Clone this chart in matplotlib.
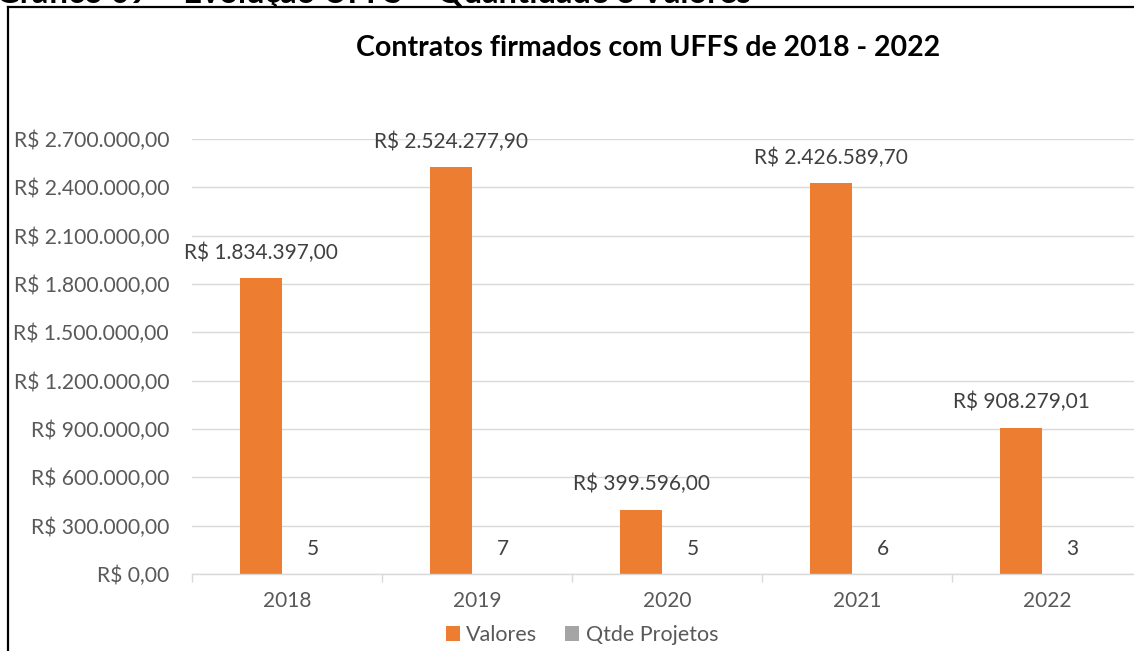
import matplotlib
matplotlib.use("Agg")
import matplotlib.pyplot as plt
from matplotlib.lines import Line2D
import numpy as np

years = ["2018", "2019", "2020", "2021", "2022"]
valores = [1834397.00, 2524277.90, 399596.00, 2426589.70, 908279.01]
qtde = [5, 7, 5, 6, 3]
yticks = [0, 300000, 600000, 900000, 1200000, 1500000, 1800000, 2100000, 2400000, 2700000]

plt.rcParams['font.family'] = ['Lato', 'DejaVu Sans']

def brl(v):
    s = f"{v:,.2f}"
    s = s.replace(",", "X").replace(".", ",").replace("X", ".")
    return "R$ " + s

W, H = 1134, 651
fig = plt.figure(figsize=(W / 100, H / 100), dpi=100)
ax = fig.add_axes([192 / W, 77 / H, 950 / W, (574 - 139) / H])

x = np.arange(len(years))
bw = 0.22
off = 0.135
orange = "#ed7d31"
gray = "#a5a5a5"
ax.bar(x - off, valores, width=bw, color=orange, label="Valores", zorder=3)
ax.bar(x + off, qtde, width=bw, color=gray, label="Qtde Projetos", zorder=3)

for xi, v in zip(x, valores):
    ax.annotate(brl(v), (xi - off, v), xytext=(0, 11), textcoords="offset points",
                ha="center", va="bottom", fontsize=15, color="#404040")
for xi, q in zip(x, qtde):
    ax.annotate(str(q), (xi + off, q), xytext=(0, 11), textcoords="offset points",
                ha="center", va="bottom", fontsize=15, color="#404040")

ax.set_xlim(-0.5, 4.5)
ax.set_ylim(0, 2700000)
ax.set_yticks(yticks)
ax.set_yticklabels([brl(v) for v in yticks], fontsize=15.2, color="#595959")
ax.tick_params(axis="y", length=0, pad=16.5)
ax.set_xticks(x)
ax.set_xticklabels(years, fontsize=15, color="#595959")
ax.set_xticks(np.arange(-0.5, 5.0, 1.0), minor=True)
ax.tick_params(axis="x", which="major", length=0, pad=12)
ax.tick_params(axis="x", which="minor", length=6, color="#d9d9d9", width=1)
ax.grid(axis="y", color="#d9d9d9", linewidth=1, zorder=0)
for s in ["top", "right", "left"]:
    ax.spines[s].set_visible(False)
ax.spines["bottom"].set_color("#d9d9d9")
ax.spines["bottom"].set_linewidth(1)
ax.spines["bottom"].set_zorder(4)

fig.text(648 / W, 1 - 48 / H, "Contratos firmados com UFFS de 2018 - 2022",
         ha="center", va="center", fontsize=20.5, fontweight="bold", color="black")

fig.legend(loc="center", bbox_to_anchor=(582 / W, 1 - 635 / H), ncol=2, frameon=False,
           fontsize=15.5, handlelength=0.65, handleheight=0.65, handletextpad=0.3,
           columnspacing=1.3, labelcolor="#595959")

# cropped heading at the top
fig.text(-4 / W, 1 - 3 / H, "Gráfico 09 – Evolução UFFS – Quantidade e Valores",
         ha="left", va="baseline", fontsize=23.5, fontweight="bold", color="black")

# frame border (left and top)
fig.add_artist(Line2D([8 / W, 8 / W], [0, 1 - 7 / H], color="black", linewidth=1.6,
                      transform=fig.transFigure))
fig.add_artist(Line2D([8 / W, 1], [1 - 7 / H, 1 - 7 / H], color="black", linewidth=1.6,
                      transform=fig.transFigure))

fig.savefig("out.png", dpi=100, facecolor="white")
